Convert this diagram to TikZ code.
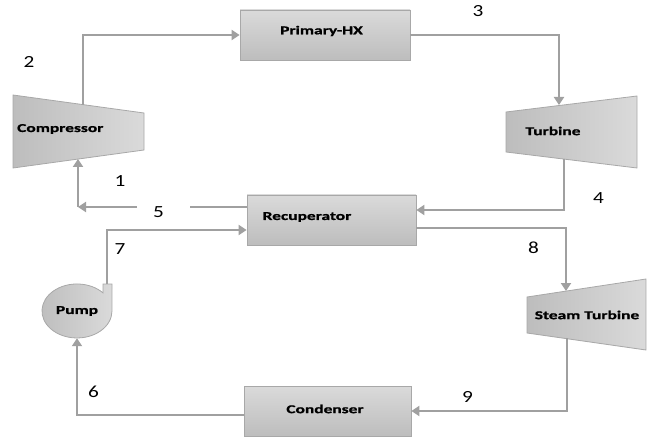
\documentclass[tikz,border=0pt]{standalone}
\usepackage{fontspec}
\usetikzlibrary{arrows.meta,shapes.geometric}
\newfontfamily\boxfont[FakeStretch=1.45, BoldFeatures={FakeBold=1.2}]{Carlito}
\newfontfamily\numfont[FakeStretch=1.25]{Carlito}
\definecolor{boxtop}{HTML}{DADADA}
\definecolor{boxbot}{HTML}{BDBDBD}
\definecolor{boxline}{HTML}{A8A8A8}
\definecolor{flowline}{HTML}{A0A0A0}
\tikzset{
  unitbox/.style={draw=boxline, line width=0.8pt, top color=boxtop, bottom color=boxbot,
    minimum width=#1, minimum height=50pt, inner sep=0pt},
  machine/.style={draw=boxline, line width=0.8pt, left color=boxbot, right color=boxtop},
  machtext/.style={inner sep=0pt, text=black, font=\boxfont\fontsize{12}{12}\selectfont\bfseries},
  flow/.style={draw=flowline, line width=2.8pt, -{Triangle[length=8pt,width=10pt]}},
  flowplain/.style={draw=flowline, line width=2.8pt},
  num/.style={inner sep=0pt, font=\numfont\fontsize{17}{17}\selectfont, text=black}
}
\begin{document}
\begin{tikzpicture}[x=1pt,y=-1pt]
\useasboundingbox (0,0) rectangle (647,438);
% rectangular units
\node[unitbox=170pt] (phx) at (325,35) {};
\node[machtext] (phxT) at (321.5,31) {Primary-HX};
\node[unitbox=169pt] (rec) at (331.5,220) {};
\node[machtext] (recT) at (307,217) {Recuperator};
\node[unitbox=167pt] (cond) at (327.5,411) {};
\node[machtext] (condT) at (325,409) {Condenser};
% compressor
\path[machine] (13,95) -- (144,113) -- (144,150) -- (13,168) -- cycle;
\node[machtext, anchor=west] (comp) at (17,129) {Compressor};
% turbine
\path[machine] (506,112) -- (637,96) -- (637,168) -- (506,152) -- cycle;
\node[machtext] (turb) at (553,131) {Turbine};
% steam turbine
\path[machine] (527,297) -- (646,279) -- (646,350) -- (527,333) -- cycle;
\node[machtext] (steam) at (587,315) {Steam Turbine};
% pump
\path[machine] (103,292.9) arc[start angle=42, end angle=360, x radius=35pt, y radius=27pt]
  -- (112,284) -- (103,284) -- cycle;
\node[machtext, ellipse, minimum width=70pt, minimum height=54pt] (pump) at (77,311) {Pump};
% connection points
\coordinate (c-out) at (83,105);
\coordinate (c-in) at (78,159);
\coordinate (t-in) at (559,105);
\coordinate (t-out) at (564,159);
\coordinate (s-in) at (566,291);
\coordinate (s-out) at (567,338);
\coordinate (p-out) at (107,284);
\coordinate (g5a) at (190,207);
\coordinate (g5b) at (137,207);
\coordinate (k1) at (78,207);
% connectors
\draw[flow] (c-out) |- (phx.west);
\draw[flow] (phx.east) -| (t-in);
\draw[flow] (t-out) |- ([yshift=10pt]rec.east);
\draw[flowplain] ([yshift=13pt]rec.west) -- (g5a);
\draw[flow] (g5b) -- (k1);
\draw[flow] (k1) -- (c-in);
\draw[flow] (p-out) |- ([yshift=-10pt]rec.west);
\draw[flow] ([yshift=-8pt]rec.east) -| (s-in);
\draw[flow] (s-out) |- (cond.east);
\draw[flow] ([yshift=-4pt]cond.west) -| (pump.south);
% state labels
\node[num] (n1) at (120,181) {1};
\node[num] (n2) at (29,62) {2};
\node[num] (n3) at (478,11.5) {3};
\node[num] (n4) at (598.5,198.5) {4};
\node[num] (n5) at (158.5,212.5) {5};
\node[num] (n6) at (93.5,392) {6};
\node[num] (n7) at (120,249) {7};
\node[num] (n8) at (533.5,247.5) {8};
\node[num] (n9) at (467.5,396.5) {9};
\end{tikzpicture}
\end{document}
